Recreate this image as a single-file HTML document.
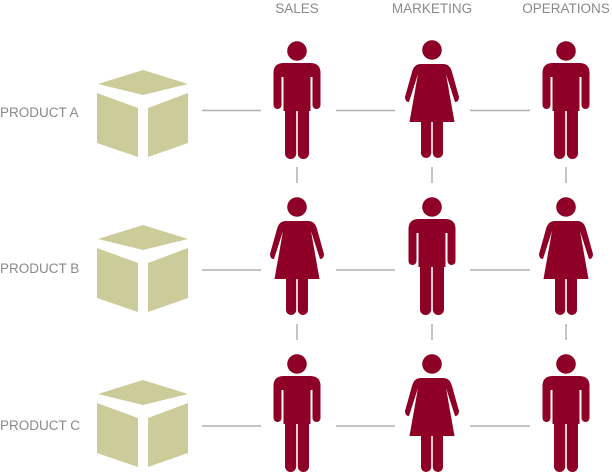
<!DOCTYPE html>
<html><head><meta charset="utf-8"><style>
html,body{margin:0;padding:0;background:#fff;}
svg{display:block;}
text{font-family:"Liberation Sans",sans-serif;font-size:13.5px;fill:#8a8a8a;}
</style></head><body>
<svg width="612" height="473" viewBox="0 0 612 473" xmlns="http://www.w3.org/2000/svg">
<defs>
<g id="box" fill="#cccb9a">
<polygon points="143,0 98,14 143,25 188,14"/>
<polygon points="97,23 138,38 138,87 97,73"/>
<polygon points="148,38 188,23 188,73 148,87"/>
</g>
<g id="man" fill="#8e0026">
<circle cx="0" cy="0" r="9.8"/>
<path d="M-23.5,22 Q-23.5,12 -13,12 L13,12 Q23.5,12 23.5,22 L23.5,26 L-23.5,26 Z"/>
<rect x="-23.5" y="18" width="8" height="40" rx="4"/>
<rect x="15.5" y="18" width="8" height="40" rx="4"/>
<rect x="-13.5" y="18" width="27" height="42"/>
<rect x="-12" y="50" width="11.2" height="58" rx="5.5"/>
<rect x="0.8" y="50" width="11.2" height="58" rx="5.5"/>
</g>
<g id="woman" fill="#8e0026">
<circle cx="0" cy="0" r="9.8"/>
<path d="M-11,14 Q-18,14 -20,22 L-27,47 Q-27,52 -23,52 L-14,24 L-22.5,72 L22.5,72 L14,24 L23,52 Q27,52 27,47 L20,22 Q18,14 11,14 Z"/>
<rect x="-11" y="60" width="10.2" height="48" rx="5"/>
<rect x="0.8" y="60" width="10.2" height="48" rx="5"/>
</g>
<g id="row" stroke="#b0b0b0" stroke-width="1.5">
<line x1="202" y1="0" x2="261" y2="0"/>
<line x1="336" y1="0" x2="395" y2="0"/>
<line x1="470" y1="0" x2="530" y2="0"/>
</g>
<g id="vert" stroke="#b0b0b0" stroke-width="1.5">
<line x1="297" y1="0" x2="297" y2="16"/>
<line x1="432" y1="0" x2="432" y2="16"/>
<line x1="566" y1="0" x2="566" y2="16"/>
</g>
</defs>
<text x="297" y="13" text-anchor="middle">SALES</text>
<text x="432" y="13" text-anchor="middle">MARKETING</text>
<text x="566" y="13" text-anchor="middle">OPERATIONS</text>

<text x="0" y="117">PRODUCT A</text>
<text x="0" y="273">PRODUCT B</text>
<text x="0" y="430">PRODUCT C</text>

<use href="#box" y="70"/>
<use href="#box" y="225"/>
<use href="#box" y="380"/>

<use href="#row" y="110.5"/>
<use href="#row" y="270"/>
<use href="#row" y="426"/>
<use href="#vert" y="167"/>
<use href="#vert" y="324"/>

<use href="#man" x="297" y="51"/>
<use href="#woman" x="432" y="50"/>
<use href="#man" x="566" y="51"/>

<use href="#woman" x="297" y="207"/>
<use href="#man" x="432" y="207"/>
<use href="#woman" x="566" y="207"/>

<use href="#man" x="297" y="364"/>
<use href="#woman" x="432" y="364"/>
<use href="#man" x="566" y="364"/>
</svg>
</body></html>
